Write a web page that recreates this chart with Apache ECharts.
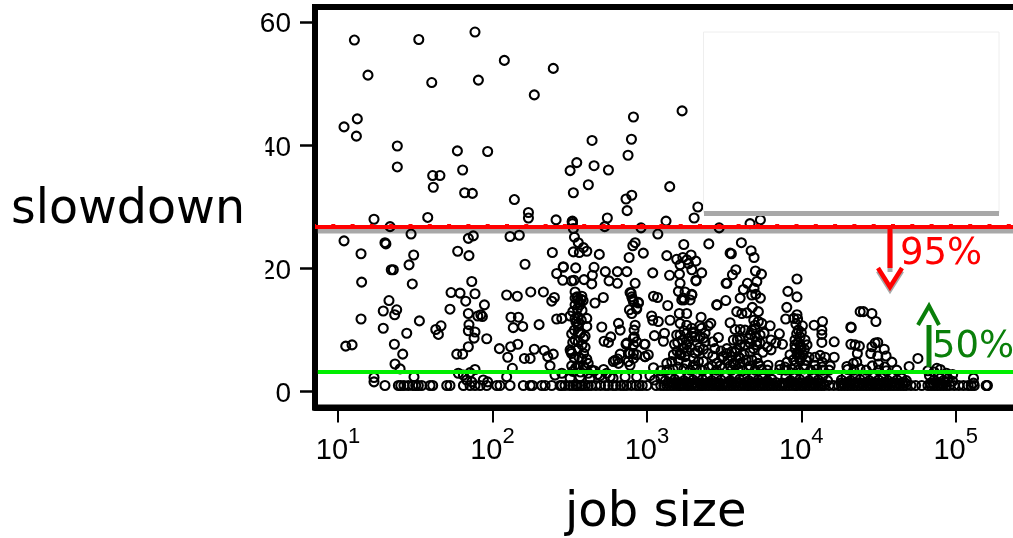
<!DOCTYPE html>
<html><head><meta charset="utf-8">
<style>html,body{margin:0;padding:0;background:#fff}#c{width:1013px;height:538px}</style>
<script src="https://cdn.jsdelivr.net/npm/echarts@6/dist/echarts.min.js"></script>
</head><body><div id="c"></div>
<script>
// [log10(job size), slowdown]
const upperJobs = [[1.106,57.1],[1.523,57.2],[1.887,58.4],[2.077,53.8],[2.394,52.5],[1.194,51.4],[1.607,50.2],[1.909,50.6],[2.271,48.2],[1.125,44.3],[1.039,43.0],[1.119,41.5],[1.384,39.9],[1.384,36.5],[1.773,39.1],[1.969,39.0],[1.807,36.0],[1.613,35.1],[1.660,35.1],[1.617,33.2],[1.820,32.3],[1.870,32.2],[2.142,31.2],[2.233,29.1],[2.645,40.8],[2.913,44.6],[2.900,41.0],[2.878,38.4],[2.546,37.2],[2.503,35.9],[2.658,36.7],[2.751,36.0],[2.621,33.6],[2.524,32.3],[2.902,31.9],[2.865,31.3],[2.872,29.4],[2.744,28.2],[2.412,27.9],[2.516,27.6],[2.518,27.7],[2.233,28.2],[1.581,28.3],[1.233,28.0],[3.228,45.6],[3.148,33.3],[3.330,30.0],[3.124,27.7],[3.306,28.2],[3.668,27.3],[3.735,27.9]];
const middleJobs = [[2.727,26.8],[2.962,26.6],[3.071,25.6],[3.468,26.6],[2.518,27.3],[2.524,26.5],[2.531,25.1],[2.556,24.2],[2.589,23.4],[2.611,22.8],[2.524,22.7],[2.563,22.6],[2.388,22.6],[2.692,22.3],[2.924,24.2],[2.909,23.7],[2.885,21.8],[2.977,22.5],[3.129,22.1],[3.239,23.9],[3.401,24.0],[3.286,22.2],[3.193,21.5],[3.233,21.8],[3.259,21.4],[3.317,21.2],[3.215,20.6],[3.269,20.8],[3.539,22.5],[3.547,22.4],[2.459,20.3],[2.539,20.1],[2.658,20.2],[2.731,19.5],[2.809,19.5],[2.870,19.5],[3.038,19.3],[3.355,19.3],
[3.612,24.2],[3.675,22.9],[3.694,21.8],[3.291,19.8],[3.319,18.0],[3.576,19.8],[3.554,19.0],[3.513,17.6],[3.703,19.6],[3.742,19.1],[3.712,17.9],[3.651,17.6],[3.625,16.6],[3.694,16.8],[3.679,15.7],[3.705,15.8],[3.735,15.2],[3.604,15.2],[3.511,14.8],[3.455,14.1],[3.291,15.7],[3.280,14.9],[3.683,13.7],[3.722,13.0],[3.582,13.0],[3.615,12.7],[3.647,12.8],[3.351,12.1],[3.539,11.2],[3.414,11.1],[3.343,10.7],[3.692,11.6],[3.722,11.4],[3.700,10.8],[3.744,11.1],[3.798,10.7],[3.571,10.1],[3.604,10.1],[3.636,10.0],[3.398,10.7],[3.301,9.7],[3.377,9.5],[3.312,8.9],[3.366,8.7],[3.463,8.8],[3.427,8.1],[3.586,8.4],[3.560,8.4],[3.604,8.5],[3.700,8.9],[3.733,9.2],[3.759,9.5],[3.668,7.9],[3.712,8.1],[3.733,7.9],[3.858,9.4],[3.804,8.4],[3.835,7.9],[3.878,7.7],[3.781,7.3],[3.804,6.8],[3.518,7.0],[3.366,6.9],[3.427,5.8],[3.490,5.7],[3.549,6.5],[3.549,5.7],[3.582,6.8],[3.593,5.7],[3.560,4.6],[3.604,4.6],
[3.972,18.3],[3.913,16.3],[3.972,15.4],[3.906,13.7],[3.899,11.8],[3.972,12.5],[3.951,11.9],[3.976,11.8],[3.965,11.0],[4.007,10.7],[4.083,10.8],[4.137,11.4],[4.133,10.0],[4.133,9.3],[4.133,8.0],[4.213,8.1],[4.213,5.6],[4.323,10.4],[4.321,7.7],[4.348,7.6],[4.376,7.4],[4.402,13.0],[4.381,13.0],[4.457,12.7],[4.483,11.4],[4.321,10.5],[4.363,6.2],[4.478,7.9],[4.495,8.0],[4.457,7.3],[4.537,6.9],[4.450,6.2],[4.495,5.8],[4.549,5.8],[4.586,4.8],[4.755,5.4],[4.698,4.1],[4.337,4.6],[4.295,4.1],[4.359,4.8],[4.618,3.5],[4.878,3.8],[5.115,2.2]];
const leftJobs = [[1.337,26.8],[1.473,25.6],[1.039,24.5],[1.304,24.2],[1.310,24.0],[1.844,24.9],[1.876,25.3],[2.114,25.2],[2.174,25.4],[1.775,22.8],[1.848,22.1],[1.149,22.4],[1.490,22.2],[1.460,20.6],[2.211,20.7],[1.358,19.8],[1.345,19.8],[1.866,17.9],[1.153,17.8],[1.481,17.5],[1.732,16.1],[1.790,16.0],[1.887,15.9],[1.827,14.7],[2.092,15.7],[2.161,15.5],[2.248,16.2],[2.330,16.2],[2.401,15.3],[2.384,14.7],[1.330,14.8],[1.380,13.3],[1.293,13.1],[1.367,12.5],[1.725,13.4],[1.948,14.1],[1.844,12.7],[1.905,12.3],[1.935,12.2],[1.925,12.5],[1.149,11.8],[1.527,11.5],[2.120,12.1],[2.168,12.1],[2.416,11.8],[2.449,11.9],[2.302,10.9],[2.135,10.4],[2.196,10.6],[1.848,10.9],[1.293,10.3],[1.445,9.5],[1.667,10.7],[1.633,10.1],[1.650,9.3],[1.844,9.9],[1.887,9.7],[1.881,8.7],[1.963,8.6],[1.365,7.7],[1.050,7.4],[1.091,7.6],[1.844,7.3],[2.164,7.7],[2.118,7.3],[2.045,7.0],[2.271,6.9],[2.336,6.7],[1.419,6.1],[1.769,6.1],[1.807,6.1],[2.394,6.1],[2.358,5.7],[2.099,5.6],[2.207,5.4],[2.244,5.4],[1.369,4.5],[1.402,3.7],[2.373,4.2],[2.129,3.8],[1.887,3.6],[1.855,3.1],[1.779,3.0],[1.812,2.7],[1.233,2.3],[1.233,1.6],[1.492,2.4],[2.092,2.4],[2.405,2.7],[2.449,3.0],[1.833,1.9],[1.866,1.6],[1.941,1.9],[1.969,1.6]];
const columnJobs = [[2.416,19.2],[2.459,20.2],[2.455,18.1],[2.513,18.0],[2.528,18.1],[2.593,18.2],[2.643,17.5],[2.647,18.9],[2.755,18.0],[2.809,17.6],[2.924,17.6],[2.535,16.2],[2.579,15.5],[2.535,15.2],[2.554,14.9],[2.587,14.8],[2.535,14.1],[2.567,14.1],[2.575,15.0],[2.548,15.4],[2.560,14.5],[2.718,15.3],[2.664,14.4],[2.898,16.0],[2.908,15.0],[2.945,14.4],[2.934,13.4],[2.887,13.3],[2.503,12.3],[2.535,11.9],[2.554,12.2],[2.611,11.9],[2.556,11.1],[2.556,10.6],[2.611,10.6],[2.540,11.4],[2.575,11.6],[2.708,10.5],[2.816,11.1],[2.827,10.0],[2.513,9.4],[2.556,9.7],[2.589,8.7],[2.556,8.1],[2.535,8.4],[2.723,8.2],[2.766,8.9],[2.751,8.0],[2.924,10.8],[2.917,10.0],[2.913,8.7],[2.870,7.9],[2.913,7.6],[2.984,7.7],[2.503,6.8],[2.513,6.2],[2.508,6.5],[2.556,7.0],[2.827,6.1],[2.794,5.1],[2.880,6.2],[2.913,6.2],[2.988,5.7],[2.891,4.3],[2.579,5.3],[2.611,5.3],[2.513,4.2],[2.556,4.1],[2.589,4.1],[2.643,3.5],[2.816,4.6],[2.503,2.2],[2.567,2.4],[2.632,2.2],[2.697,2.6],[2.781,2.2],[2.762,2.4],[2.859,2.4],[2.934,2.4],
[3.147,18.9],[3.211,19.1],[3.215,17.6],[3.317,18.1],[3.518,17.6],[3.204,16.3],[3.247,16.2],[3.291,15.8],[3.226,14.9],[3.241,14.9],[3.235,15.2],[3.043,15.5],[3.069,15.3],[3.135,14.0],[3.452,14.1],[3.210,12.7],[3.258,12.7],[3.031,12.3],[3.038,11.6],[3.074,11.4],[3.150,11.6],[3.215,11.1],[3.258,10.8],[3.355,10.3],[3.049,9.1],[3.114,9.5],[3.107,8.2],[3.193,9.2],[3.215,9.2],[3.258,9.5],[3.291,10.3],[3.301,9.5],[3.345,8.9],[3.377,8.1],[3.179,7.7],[3.258,7.6],[3.495,5.7],[2.988,5.7],[3.009,6.0],[3.172,6.0],[3.215,6.2],[3.247,5.7],[3.301,5.4],[3.334,4.9],[3.366,4.9],[3.129,4.6],[3.161,4.9],[3.204,5.1],[3.258,4.6],[3.301,4.3],[3.043,3.9],[3.452,4.6],[2.891,16.1],[2.902,15.4],[2.913,14.6],[2.945,14.5],[2.934,13.6],[2.902,12.7],[2.919,8.9],[2.865,7.7],[2.934,8.1],[2.988,7.7],[2.891,6.2],[2.812,5.3],[2.783,4.9],[2.935,6.0],[2.913,5.4],[2.880,4.9],
[3.668,6.4],[3.712,5.4],[3.751,6.4],[3.642,5.1],[3.571,6.4],[3.525,5.1],[3.604,5.4],[3.571,4.3],[3.668,4.2],[3.733,4.2],[3.784,4.3],[3.636,7.6],[3.604,7.6],[3.539,4.2],[3.474,4.2],[3.422,4.2],[3.992,8.9],[3.959,8.4],[4.024,8.4],[3.992,7.6],[3.959,7.6],[4.037,7.6],[3.992,6.8],[3.972,6.0],[4.011,6.0],[3.927,6.0],[4.050,5.6],[3.992,5.1],[3.907,4.8],[3.862,4.3],[3.894,4.0],[3.959,4.3],[4.024,4.3],[4.089,4.3],[4.122,5.9],[4.089,5.6],[4.154,5.6],[4.135,4.8],[4.135,4.0],[4.187,4.2],[3.480,6.6],[3.515,6.2],[3.440,7.0],[3.395,6.2],[3.330,6.6],[3.280,7.2],[3.235,7.0],[3.195,6.6]];
// denser clumps in the columns, estimated where rings overlap
const clumpJobs = [[2.52,13.0],[2.55,13.5],[2.58,13.2],[2.53,10.0],[2.57,9.5],[2.60,9.0],[2.52,8.0],[2.58,7.6],[2.60,7.2],[2.53,5.5],[2.56,5.6],[2.59,6.2],[2.62,4.6],[2.54,3.9],[2.60,3.8],[2.66,3.4],[2.68,2.8],[2.52,3.3],[2.57,3.2],[2.62,3.0],[2.72,3.6],[2.74,3.0],
[3.20,4.0],[3.24,3.7],[3.28,3.5],[3.32,3.7],[3.36,3.4],[3.40,3.9],[3.17,3.6],[3.13,3.5],[3.09,3.4],[3.45,3.5],[3.49,3.8],[3.22,6.0],[3.26,6.6],[3.31,6.3],[3.34,7.2],[3.23,8.4],[3.27,8.2],[3.20,8.0],[3.24,9.9],[3.29,9.0],
[3.55,3.5],[3.59,3.7],[3.62,3.4],[3.66,3.6],[3.70,3.5],[3.74,3.6],[3.78,3.5],[3.69,7.0],[3.71,7.6],[3.67,9.3],[3.68,10.0],[3.70,10.2],[3.66,8.6],[3.63,6.0],[3.68,5.2],[3.72,4.6],
[3.98,10.0],[3.97,9.4],[4.00,9.6],[3.98,8.0],[4.00,7.2],[3.96,7.0],[4.02,6.9],[3.98,6.4],[3.99,5.6],[3.95,5.2],[4.03,5.1],[3.94,3.6],[3.98,3.5],[4.02,3.7],[4.06,3.5],[3.90,3.5],[3.86,3.6],[4.10,3.6],[4.14,3.5],[4.18,3.5],[4.30,3.6],[4.34,3.5],[4.38,3.7],[4.42,3.5],[4.46,4.2],[4.50,4.5],[4.54,4.0],[4.50,3.5],[4.55,3.4],[4.82,3.4],[4.86,3.2],[4.90,3.6],[4.94,3.0],[4.98,2.8]];
// band of jobs just below the green line
const lowBand = [[3.02,2.6],[3.05,1.9],[3.09,2.3],[3.12,1.8],[3.15,2.6],[3.18,2.0],[3.21,2.5],[3.24,1.8],[3.27,2.4],[3.30,1.9],[3.33,2.6],[3.36,2.0],[3.39,2.4],[3.42,1.8],[3.45,2.5],[3.48,1.9],[3.51,2.3],[3.54,1.8],[3.57,2.6],[3.60,2.0],[3.63,2.4],[3.66,1.8],[3.69,2.5],[3.72,1.9],[3.75,2.2],[3.78,1.8],[3.81,2.0],[3.90,2.4],[3.93,1.8],[3.96,2.6],[3.99,2.0],[4.02,2.5],[4.05,1.8],[4.08,2.3],[4.11,1.9],[4.14,2.6],[4.17,1.8],[4.26,1.9],[4.29,2.5],[4.32,1.8],[4.35,2.4],[4.38,2.0],[4.41,2.5],[4.44,1.8],[4.47,2.3],[4.50,1.9],[4.53,2.5],[4.56,1.8],[4.59,2.3],[4.62,1.9],[4.65,2.2],[4.68,1.8],[4.83,2.6],[4.86,1.9],[4.89,2.5],[4.92,1.8],[4.95,2.1],[4.98,1.7],[5.115,1.4],
[3.135,1.4],[3.155,1.5],[3.175,1.3],[3.195,1.5],[3.215,1.4],[3.235,1.3],[3.255,1.5],[3.275,1.4],[3.295,1.3],[3.315,1.5],[3.345,1.4],[3.375,1.3],[3.395,1.5],[3.415,1.4],[3.435,1.3],[3.455,1.5],[3.475,1.4],[3.505,1.3],[3.525,1.5],[3.545,1.4],[3.565,1.3],[3.585,1.5],[3.605,1.4],[3.625,1.3],[3.645,1.5],[3.675,1.4],[3.695,1.3],[3.715,1.5],[3.735,1.4],[3.755,1.3],[3.775,1.5],[3.795,1.4],[3.815,1.3],[3.835,1.5],[3.875,1.4],[3.895,1.3],[3.915,1.5],[3.935,1.4],[3.955,1.3],[3.985,1.5],[4.005,1.4],[4.025,1.3],[4.045,1.5],[4.065,1.4],[4.085,1.3],[4.105,1.5],[4.125,1.4],[4.145,1.3],[4.255,1.4],[4.275,1.3],[4.295,1.5],[4.315,1.4],[4.335,1.3],[4.355,1.5],[4.375,1.4],[4.395,1.3],[4.415,1.5],[4.435,1.4],[4.455,1.3],[4.475,1.5],[4.495,1.4],[4.515,1.3],[4.535,1.5],[4.555,1.4],[4.575,1.3],[4.595,1.5],[4.615,1.4],[4.635,1.3],[4.655,1.5],[4.675,1.4],[4.835,1.4],[4.855,1.3],[4.875,1.5],[4.895,1.4],[4.915,1.3],[4.935,1.5]];
// jobs that sit on the floor at a slowdown of about 1
const floorJobs = [1.304,1.391,1.406,1.427,1.455,1.484,1.503,1.520,1.542,1.596,1.613,1.704,1.725,1.812,1.855,1.887,1.920,1.963,2.028,2.049,2.114,2.200,2.244,2.259,2.319,2.341,2.384,2.438,2.449,2.47,2.50,2.52,2.54,2.55,2.57,2.58,2.60,2.62,2.64,2.67,2.70,2.73,2.75,2.78,2.80,2.83,2.85,2.87,2.90,2.93,2.95,2.97,3.00,3.06,3.09,3.11,3.13,3.15,3.17,3.19,3.21,3.22,3.24,3.26,3.27,3.29,3.31,3.33,3.35,3.36,3.38,3.40,3.42,3.44,3.46,3.47,3.49,3.51,3.53,3.55,3.57,3.59,3.61,3.63,3.65,3.66,3.68,3.70,3.72,3.74,3.76,3.78,3.80,3.82,3.84,3.86,3.88,3.90,3.92,3.94,3.96,3.97,3.99,4.01,4.03,4.05,4.07,4.09,4.11,4.13,4.15,4.18,4.21,4.24,4.26,4.28,4.30,4.32,4.34,4.36,4.38,4.40,4.42,4.44,4.46,4.48,4.50,4.52,4.54,4.56,4.58,4.60,4.62,4.64,4.66,4.68,4.71,4.74,4.78,4.82,4.84,4.86,4.88,4.90,4.92,4.94,4.96,4.99,5.02,5.05,5.08,5.10,5.12,5.197,5.201,5.205];
const floorSlowdown = 1.0;
const xTicks = [10,100,1000,10000,100000];
const yTicks = [0,20,40,60];
const p95 = 26.75, p95Dots = 27.0, p95Shadow = 26.1, p50 = 3.2;

const xMin = 7.096, xMax = 326000, yMin = -2.565, yMax = 62.47;
const pts = upperJobs.concat(middleJobs, leftJobs, columnJobs, clumpJobs, lowBand, floorJobs.map(e => [e, floorSlowdown]))
  .map(p => [Math.pow(10, p[0]), p[1]]);
const hline = (v, from, color, width, type, z, dashOffset) => ({
  type:'line', data:[[from,v],[xMax,v]], symbol:'none', z, silent:true,
  lineStyle:{color, width, type, dashOffset, cap:'butt'}
});
const txt = (text,x,y,size,fill) => ({type:'text', z:200, style:{text, x, y:y-0.81*size, fill, fontFamily:'DejaVu Sans', fontSize:size}});
const poly = (points,stroke,width,z) => ({type:'polyline', z, shape:{points}, style:{stroke, lineWidth:width, fill:'none'}});
const chart = echarts.init(document.getElementById('c'), null, {renderer:'canvas'});
chart.setOption({
  animation:false, backgroundColor:'#fff',
  grid:{left:315, top:7, width:720, height:400.5, outerBoundsMode:'none', show:true, borderColor:'#000', borderWidth:6, backgroundColor:'#fff'},
  xAxis:{type:'log', min:xMin, max:xMax, splitLine:{show:false}, minorTick:{show:false},
    axisLine:{show:true, onZero:false, lineStyle:{color:'#000', width:6}},
    axisTick:{customValues:xTicks, length:15, lineStyle:{color:'#000', width:2}},
    axisLabel:{customValues:xTicks, margin:18, color:'#000', hideOverlap:false,
      formatter:v => '{a|10}{b|' + Math.round(Math.log10(v)) + '}',
      rich:{a:{fontFamily:'Liberation Sans', fontSize:29, lineHeight:40, verticalAlign:'bottom', color:'#000'},
            b:{fontFamily:'Liberation Sans', fontSize:22, lineHeight:1, verticalAlign:'top', color:'#000'}}}},
  yAxis:{type:'value', min:yMin, max:yMax, splitLine:{show:false},
    axisLine:{show:true, onZero:false, lineStyle:{color:'#000', width:6}},
    axisTick:{customValues:yTicks, length:15, lineStyle:{color:'#000', width:2.5}},
    axisLabel:{customValues:yTicks, margin:24, color:'#000', formatter:'{v|{value}}',
      rich:{v:{fontFamily:'Liberation Sans', fontSize:28, color:'#000', padding:[5,0,0,0]}}}},
  series:[
    hline(p95Shadow, 7.4, '#a8a8a8', 5, 'solid', 1),
    {type:'scatter', data:pts, symbol:'circle', symbolSize:9, z:2, progressive:0, silent:true,
      itemStyle:{color:'rgba(0,0,0,0)', borderColor:'#000', borderWidth:2.1, opacity:1}},
    hline(p95, xMin, '#ff0000', 4, 'solid', 3),
    hline(p95Dots, xMin, '#ff0000', 3, [4,15.3], 3, 3),
    hline(p50, 7.4, '#00ee00', 4, 'solid', 3)
  ],
  graphic:[
    {type:'rect', z:90, shape:{x:0,y:40,width:265.5,height:345}, style:{fill:'#fff'}},
    {type:'rect', z:90, shape:{x:703.5,y:32,width:295.5,height:181}, style:{fill:'#fff', stroke:'#eeeeee', lineWidth:1}},
    {type:'rect', z:91, shape:{x:704,y:211,width:295,height:5}, style:{fill:'#a8a8a8'}},
    txt('slowdown',11,225,47.5,'#000'),
    txt('job size',565,528,48,'#000'),
    poly([[890,233],[890,272]],'#a8a8a8',5,95),
    poly([[878,271],[890,290],[902,271]],'#a8a8a8',4.5,95),
    poly([[890,228],[890,268]],'#ff0000',5,96),
    poly([[878,268],[890,287],[902,268]],'#ff0000',4.5,96),
    txt('95%',900,266,37,'#ff0000'),
    poly([[929,367],[929,325]],'#0a7f0a',5,96),
    poly([[918,325],[929,306],[939,325]],'#0a7f0a',4,96),
    txt('50%',932,359,37,'#0a7f0a')
  ]
});
</script></body></html>
